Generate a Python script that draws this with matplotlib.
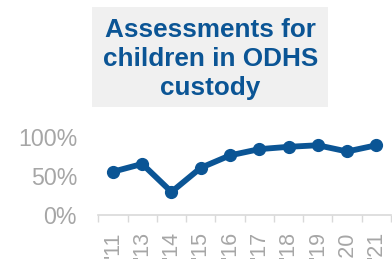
import matplotlib
matplotlib.use("Agg")
import matplotlib.pyplot as plt
from matplotlib.patches import Rectangle

years = ["'11", "'13", "'14", "'15", "'16", "'17", "'18", "'19", "'20", "'21"]
values = [0.55, 0.65, 0.29, 0.60, 0.76, 0.84, 0.87, 0.89, 0.81, 0.89]
title_text = "Assessments for\nchildren in ODHS\ncustody"

W, H = 392, 259
fig = plt.figure(figsize=(W / 100, H / 100), dpi=100)
plt.rcParams['font.family'] = ['Liberation Sans', 'DejaVu Sans']

blue = "#0B5595"
gray = "#A6A6A6"

# title box
fig.patches.append(Rectangle((92 / W, 1 - 107 / H), (328 - 92) / W, (107 - 7) / H,
                             transform=fig.transFigure, facecolor="#F0F0F0",
                             edgecolor="none", zorder=0))
fig.text(210.5 / W, 1 - 59 / H, title_text, ha="center", va="center",
         fontsize=18.8, fontweight="bold", color=blue, linespacing=1.25)

left, right = 98.3, 391.0
bottom, top = 214.5, 136.7
ax = fig.add_axes([left / W, 1 - bottom / H, (right - left) / W, (bottom - top) / H])
x = list(range(len(years)))
ax.plot(x, values, color=blue, lw=4.2, marker="o", markersize=8.5, clip_on=False,
        solid_joinstyle="round")
ax.set_xlim(-0.5, len(years) - 0.5)
ax.set_ylim(0, 1)
ax.set_yticks([0, 0.5, 1.0])
ax.set_yticklabels(["0%", "50%", "100%"])
ax.set_xticks([i - 0.5 for i in range(len(years) + 1)], minor=False)
ax.set_xticklabels([])
ax.set_xticks(x, minor=True)
ax.set_xticklabels(years, minor=True, rotation=90, fontsize=15.5, color=gray)
ax.tick_params(axis="x", which="major", length=5, color="#D9D9D9", width=1)
ax.tick_params(axis="x", which="minor", length=0, pad=12)
ax.tick_params(axis="y", length=0, labelsize=16.7, labelcolor=gray, pad=15.3)
for s in ["top", "right", "left"]:
    ax.spines[s].set_visible(False)
ax.spines["bottom"].set_color("#D9D9D9")
ax.spines["bottom"].set_linewidth(1.2)
for lab in ax.get_xticklabels(minor=True):
    lab.set_va("top")

fig.savefig("out.png", dpi=100)
